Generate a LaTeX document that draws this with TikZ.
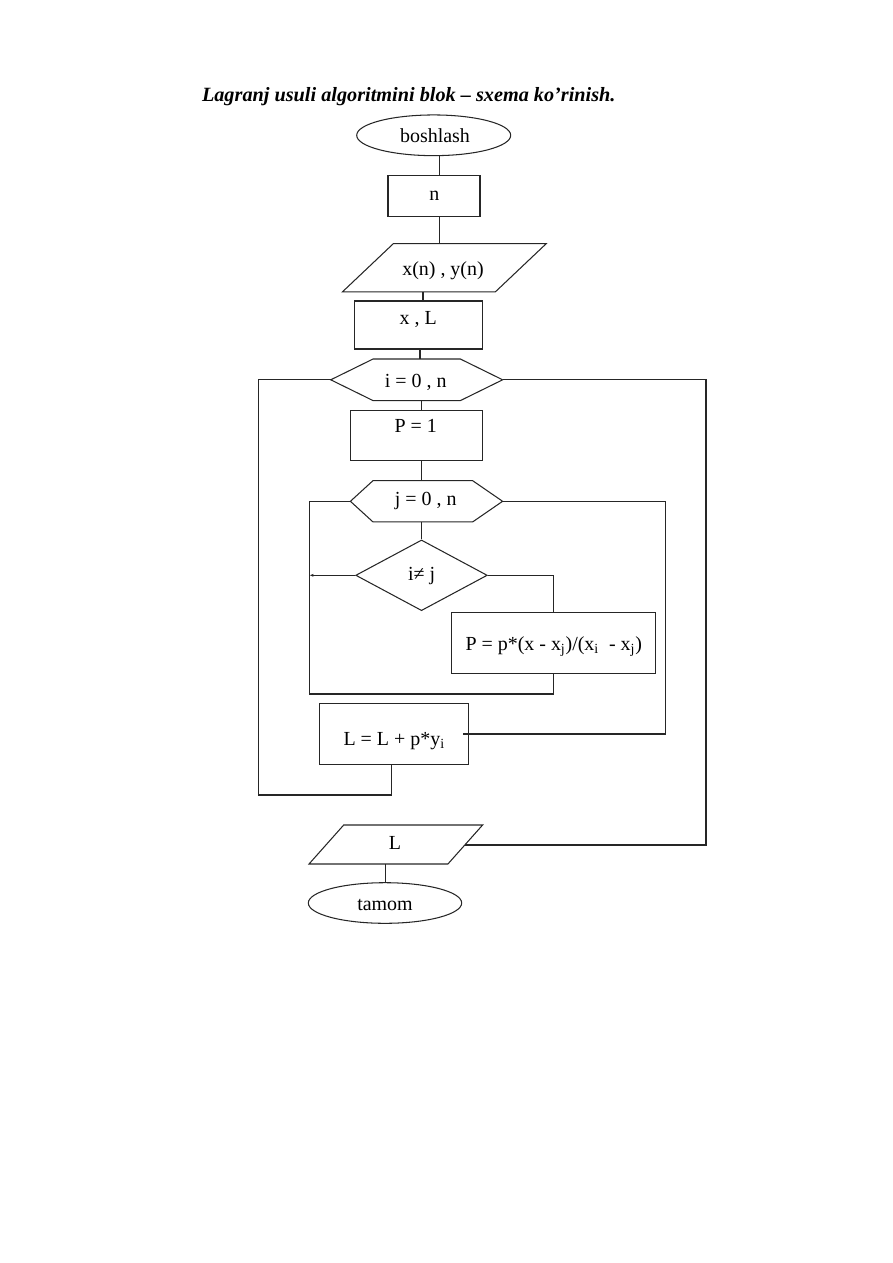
\documentclass[tikz,border=0pt]{standalone}
\usepackage{fontspec}
\setmainfont{Liberation Serif}
\usetikzlibrary{shapes.geometric,calc,arrows.meta}
\newdimen\pxu \pxu=0.66667pt
\newcommand\drawhexa[3]{\draw[ln] (#1.west) -- ($(#1.north west)+(#2,0)$) -- ($(#1.north east)+(-#3,0)$) -- (#1.east) -- ($(#1.south east)+(-#3,0)$) -- ($(#1.south west)+(#2,0)$) -- cycle;}
\newcommand\drawpara[2]{\draw[ln] (#1.south west) -- ($(#1.north west)+(#2,0)$) -- (#1.north east) -- ($(#1.south east)+(-#2,0)$) -- cycle;}
\begin{document}
\begin{tikzpicture}[x=0.66667pt,y=-0.66667pt,
  ln/.style={line width=0.7pt,draw=black!85},
  box/.style={rectangle,ln,inner sep=0pt},
  frame/.style={rectangle,inner sep=0pt},
  oval/.style={ellipse,ln,inner sep=0pt},
  txt/.style={font=\fontsize{13.3}{16}\selectfont,inner sep=0pt,anchor=base},
  conn/.style={ln}]
\useasboundingbox (0,0) rectangle (893,1263);
% title
\node[anchor=base west,inner sep=0pt,font=\fontsize{13.5}{16}\selectfont\bfseries\itshape] (title) at (201.7,101.7) {Lagranj usuli algoritmini blok – sxema ko’rinish.};
% shapes
\node[oval,minimum width=154\pxu,minimum height=40.7\pxu] (start) at (433.7,135.3) {};
\node[box,minimum width=92\pxu,minimum height=41\pxu] (n) at (434,196.2) {};
\node[frame,minimum width=203.3\pxu,minimum height=47.7\pxu] (xy) at (444.3,267.8) {};
\drawpara{xy}{51}
\node[box,minimum width=127.6\pxu,minimum height=48\pxu] (xL) at (418.5,325) {};
\node[frame,minimum width=171.3\pxu,minimum height=41\pxu] (hi) at (416.7,379.8) {};
\drawhexa{hi}{42.3}{42.3}
\node[box,minimum width=132\pxu,minimum height=50.4\pxu] (p1) at (416.3,435.5) {};
\node[frame,minimum width=151.6\pxu,minimum height=40.7\pxu] (hj) at (426.5,501.3) {};
\drawhexa{hj}{22.6}{30}
\node[diamond,ln,inner sep=0pt,minimum width=131.6\pxu,minimum height=70.7\pxu] (dia) at (421.5,575.3) {};
\node[box,minimum width=203.6\pxu,minimum height=61.3\pxu] (pf) at (553.5,643.3) {};
\node[box,minimum width=148.7\pxu,minimum height=60.7\pxu] (Lb) at (393.7,734.3) {};
\node[frame,minimum width=173\pxu,minimum height=38.4\pxu] (Lp) at (395.8,844.5) {};
\drawpara{Lp}{34.7}
\node[oval,minimum width=153.4\pxu,minimum height=40.6\pxu] (end) at (385,903) {};
% texts
\node[txt] (tstart) at (435,142.3) {boshlash};
\node[txt] (tn) at (434.3,200) {n};
\node[txt] (txy) at (443,275.7) {x(n) , y(n)};
\node[txt] (txL) at (418.3,324.3) {x , L};
\node[txt] (thi) at (415.7,387.7) {i = 0 , n};
\node[txt] (tp1) at (415.7,432.7) {P = 1};
\node[txt] (thj) at (425.7,505.3) {j = 0 , n};
\node[txt] (tdia) at (421.7,580) {i≠ j};
\node[txt] (tpf) at (553.7,650) {P = p*(x - x\textsubscript{j})/(x\textsubscript{i}\ \ - x\textsubscript{j})};
\node[txt] (tLb) at (394.2,745) {L = L + p*y\textsubscript{i}};
\node[txt] (tLp) at (395,849.3) {L};
\node[txt] (tend) at (385,910.7) {tamom};
% coordinates for loop corners
\coordinate (jl) at (309.3,694);
\coordinate (jr) at (665.3,734);
\coordinate (il) at (258.3,795);
\coordinate (ir) at (706,845);
% connectors
\draw[conn] (start.south -| 439.3,0) -- (n.north -| 439.3,0);
\draw[conn] (n.south -| 439.3,0) -- (xy.north -| 439.3,0);
\draw[conn] (xy.south -| 423,0) -- (xL.north -| 423,0);
\draw[conn] (xL.south -| 420,0) -- (hi.north -| 420,0);
\draw[conn] (hi.south -| 421.3,0) -- (p1.north -| 421.3,0);
\draw[conn] (p1.south -| 421.3,0) -- (hj.north -| 421.3,0);
\draw[conn] (hj.south -| dia.north) -- (dia.north);
\draw[conn,-{Latex[length=2.7pt,width=2pt]}] (dia.west) -- (dia.west -| jl);
\draw[conn] (dia.east) -| (pf.north);
\draw[conn] (pf.south) |- (jl) |- (hj.west);
\draw[conn] (hj.east) -| (jr) -- ($(Lb.east |- jr)+(-6,0)$);
\draw[conn] (Lb.south -| 391.3,0) |- (il) |- (hi.west);
\draw[conn] (hi.east) -| (ir) -- ($(Lp.east |- ir)+(-17.8,0)$);
\draw[conn] (Lp.south -| 385.3,0) -- (end.north -| 385.3,0);
\end{tikzpicture}
\end{document}
